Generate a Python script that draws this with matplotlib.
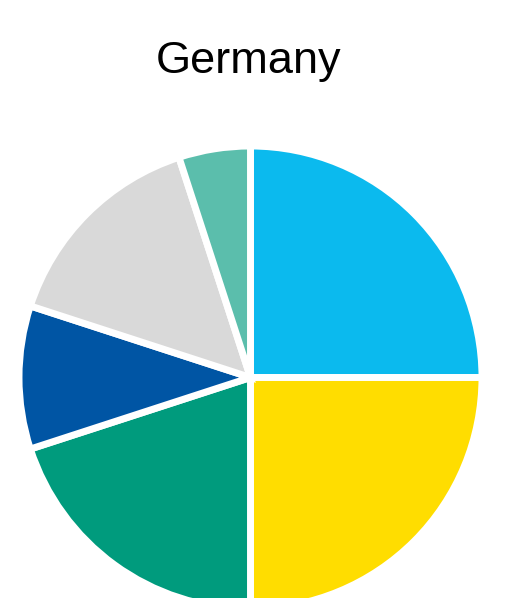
import matplotlib
matplotlib.use("Agg")
import matplotlib.pyplot as plt

# Energy mix shares (percent), clockwise from 12 o'clock
labels = ["Light blue", "Yellow", "Green", "Dark blue", "Grey", "Teal"]
shares = [25, 25, 20, 10, 15, 5]
colors = ["#0BBAEE", "#FFDD00", "#009B7D", "#0055A4", "#D9D9D9", "#5BBEAC"]

W, H = 508, 598
fig = plt.figure(figsize=(W / 100, H / 100), dpi=100)

# white edges eat half the linewidth at the rim, so pad the radius a bit
cx, cy, r = 250.5, 377.5, 231.5
ax = fig.add_axes([(cx - r) / W, (H - cy - r) / H, 2 * r / W, 2 * r / H])
ax.pie(shares, colors=colors, startangle=90, counterclock=False,
       radius=1, wedgeprops=dict(edgecolor="white", linewidth=5))
ax.set_xlim(-1, 1)
ax.set_ylim(-1, 1)
ax.set_aspect("equal")
ax.axis("off")

fig.text(cx / W - 0.004, 1 - 73 / H, "Germany", ha="center", va="baseline",
         fontsize=32.5, family="Liberation Sans", color="black")

fig.savefig("out.png", dpi=100)
